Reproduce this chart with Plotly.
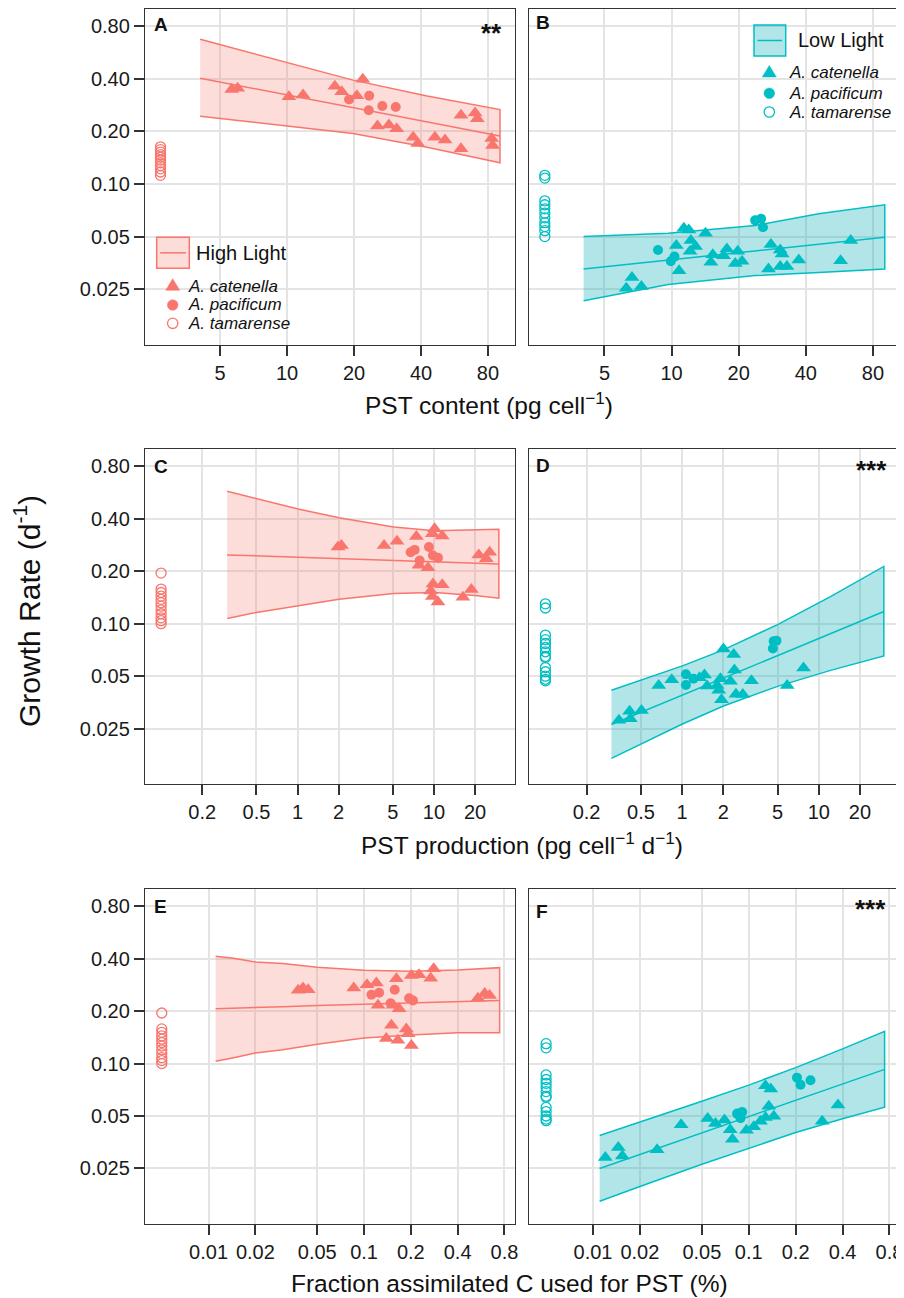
import plotly.graph_objects as go

FONT = "Liberation Sans, Arial, Helvetica, sans-serif"
RED, TEAL = "#F8766D", "#00BFC4"
RED_FILL, TEAL_FILL = "rgba(248,118,109,0.25)", "rgba(0,168,178,0.30)"

# ------------------------------------------------------------------ data
# x position at which the non-toxic A. tamarense is shown in each row
tam_x_content = 2.7
tam_x_production = 0.1
tam_x_fraction = 0.005

y_tickvals = [0.025, 0.05, 0.1, 0.2, 0.4, 0.8]
y_ticktext = ["0.025", "0.05", "0.10", "0.20", "0.40", "0.80"]
x_ticks_content = [5, 10, 20, 40, 80]
x_ticks_production = [0.2, 0.5, 1, 2, 5, 10, 20]
x_ticks_fraction = [0.01, 0.02, 0.05, 0.1, 0.2, 0.4, 0.8]
x_ticktext_fraction = ["0.01", "0.02", "0.05", "0.1", "0.2", "0.4", "0.8"]

# Panel A  (High Light, PST content)
A_cat_x = [5.64, 6.0, 10.2, 11.8, 16.4, 17.6, 20.6, 21.9, 25.5, 28.7, 31.1, 36.9, 38.7,
           46.2, 51.3, 60.5, 60.5, 70.0, 71.6, 83.1, 83.9]
A_cat_y = [0.347, 0.352, 0.315, 0.322, 0.362, 0.336, 0.319, 0.396, 0.214, 0.217, 0.207, 0.185,
           0.170, 0.185, 0.178, 0.247, 0.159, 0.254, 0.236, 0.182, 0.166]
A_pac_x = [19.0, 23.4, 23.3, 26.8, 30.8]
A_pac_y = [0.304, 0.319, 0.264, 0.279, 0.275]
A_tam_y = [0.163, 0.157, 0.152, 0.147, 0.142, 0.137, 0.132, 0.127, 0.122, 0.117, 0.112]
A_band_x = [4.07, 8.83, 19.8, 42.6, 90.6]
A_band_lo = [0.244, 0.217, 0.194, 0.162, 0.132]
A_band_fit = [0.402, 0.333, 0.273, 0.227, 0.188]
A_band_hi = [0.671, 0.514, 0.392, 0.318, 0.266]

# Panel B  (Low Light, PST content)
B_cat_x = [11.35, 11.95, 14.2, 10.5, 12.2, 12.8, 12.1, 15.3, 15.0, 17.7, 17.1, 19.8, 19.3, 20.7,
           10.8, 27.9, 30.7, 31.3, 27.2, 30.7, 32.9, 37.2, 63.6, 57.3, 6.64, 6.26, 7.32]
B_cat_y = [0.0558, 0.0546, 0.0522, 0.0444, 0.0474, 0.0438, 0.0412, 0.0394, 0.0356, 0.0425,
           0.0389, 0.0412, 0.0351, 0.0361, 0.0319, 0.0450, 0.0419, 0.0398, 0.0326, 0.0337,
           0.0337, 0.0367, 0.0474, 0.0364, 0.0292, 0.0253, 0.0259]
B_pac_x = [8.69, 10.3, 9.92, 23.7, 25.2, 25.7]
B_pac_y = [0.0419, 0.0384, 0.0361, 0.0619, 0.0632, 0.0565]
B_tam_y = [0.112, 0.108, 0.080, 0.076, 0.072, 0.068, 0.064, 0.060, 0.057, 0.054, 0.050]
B_band_x = [4.03, 9.65, 23.7, 45.7, 90.4]
B_band_lo = [0.0215, 0.0266, 0.0299, 0.0312, 0.0326]
B_band_fit = [0.0326, 0.0367, 0.0415, 0.0452, 0.0496]
B_band_hi = [0.0500, 0.0522, 0.0579, 0.0675, 0.0759]

# Panel C  (High Light, PST production)
C_cat_x = [1.98, 2.10, 4.31, 5.36, 7.43, 10.1, 9.73, 11.5, 21.3, 25.6, 24.2, 7.77, 9.04, 9.83,
           11.5, 9.46, 9.73, 10.7, 16.3, 18.8]
C_cat_y = [0.275, 0.281, 0.281, 0.297, 0.316, 0.350, 0.328, 0.318, 0.248, 0.257, 0.236, 0.216,
           0.209, 0.169, 0.167, 0.154, 0.143, 0.133, 0.142, 0.157]
C_pac_x = [6.75, 7.22, 9.19, 7.86, 9.83, 10.7]
C_pac_y = [0.257, 0.265, 0.275, 0.230, 0.246, 0.239]
CE_tam_y = [0.195, 0.158, 0.151, 0.144, 0.138, 0.132, 0.126, 0.120, 0.114, 0.108, 0.104, 0.100]
C_band_x = [0.305, 0.5, 1.01, 2.016, 5.07, 10.1, 20.0, 29.9]
C_band_lo = [0.107, 0.116, 0.127, 0.138, 0.149, 0.151, 0.145, 0.140]
C_band_fit = [0.248, 0.245, 0.241, 0.236, 0.231, 0.227, 0.223, 0.220]
C_band_hi = [0.575, 0.520, 0.455, 0.405, 0.358, 0.341, 0.344, 0.348]

# Panel D  (Low Light, PST production)
D_cat_x = [0.345, 0.413, 0.418, 0.504, 0.674, 0.839, 1.339, 1.457, 1.524, 1.804, 1.907, 1.853,
           1.940, 2.006, 2.386, 2.415, 2.257, 2.477, 2.778, 3.216, 5.87, 7.73]
D_cat_y = [0.0279, 0.0315, 0.0285, 0.0318, 0.0442, 0.0477, 0.0489, 0.0508, 0.0439, 0.0442,
           0.0483, 0.0415, 0.0366, 0.0716, 0.0665, 0.0543, 0.0467, 0.0394, 0.0393, 0.0471,
           0.0442, 0.0557]
D_pac_x = [1.066, 1.066, 1.21, 4.68, 4.90, 4.61]
D_pac_y = [0.0513, 0.0445, 0.0483, 0.0794, 0.0798, 0.0721]
DF_tam_y = [0.130, 0.123, 0.086, 0.081, 0.077, 0.073, 0.069, 0.065, 0.064, 0.056, 0.053,
            0.050, 0.048, 0.047]
D_band_x = [0.304, 1.005, 2.006, 4.99, 12.18, 29.9]
D_band_lo = [0.0169, 0.0266, 0.0337, 0.0437, 0.0540, 0.0653]
D_band_fit = [0.0264, 0.0390, 0.0489, 0.0657, 0.0878, 0.1174]
D_band_hi = [0.0415, 0.0573, 0.0708, 0.0988, 0.143, 0.213]

# Panel E  (High Light, fraction of assimilated C)
E_cat_x = [0.0377, 0.0405, 0.0437, 0.0859, 0.1045, 0.120, 0.1615, 0.2017, 0.2257, 0.2805,
           0.2684, 0.123, 0.1536, 0.168, 0.540, 0.597, 0.642, 0.150, 0.187, 0.192, 0.139,
           0.165, 0.2017]
E_cat_y = [0.263, 0.271, 0.265, 0.271, 0.283, 0.290, 0.307, 0.320, 0.323, 0.350, 0.309, 0.216,
           0.216, 0.206, 0.237, 0.252, 0.246, 0.166, 0.158, 0.148, 0.139, 0.136, 0.127]
E_pac_x = [0.1116, 0.125, 0.1575, 0.148, 0.195, 0.2065]
E_pac_y = [0.248, 0.255, 0.265, 0.222, 0.237, 0.230]
E_band_x = [0.0111, 0.0145, 0.02, 0.03, 0.05, 0.1, 0.2, 0.4, 0.745]
E_band_lo = [0.103, 0.108, 0.115, 0.120, 0.129, 0.140, 0.146, 0.150, 0.150]
E_band_fit = [0.206, 0.208, 0.210, 0.212, 0.215, 0.219, 0.222, 0.227, 0.230]
E_band_hi = [0.413, 0.402, 0.383, 0.375, 0.357, 0.343, 0.339, 0.344, 0.355]

# Panel F  (Low Light, fraction of assimilated C)
F_cat_x = [0.0120, 0.01454, 0.01543, 0.0258, 0.0368, 0.0545, 0.0611, 0.0698, 0.0760, 0.0786,
           0.0967, 0.1077, 0.1189, 0.1281, 0.1385, 0.1345, 0.1448, 0.1281, 0.296, 0.374]
F_cat_y = [0.0289, 0.0330, 0.0295, 0.0320, 0.0445, 0.0483, 0.0452, 0.0474, 0.0417, 0.0368,
           0.0414, 0.0434, 0.0467, 0.0746, 0.0714, 0.0569, 0.0499, 0.0490, 0.0467, 0.0579]
F_pac_x = [0.0842, 0.0885, 0.0907, 0.204, 0.215, 0.249]
F_pac_y = [0.0516, 0.0485, 0.0527, 0.0830, 0.0755, 0.0801]
F_band_x = [0.01103, 0.02, 0.05, 0.1, 0.2, 0.4, 0.745]
F_band_lo = [0.0162, 0.0197, 0.0264, 0.0327, 0.0402, 0.0482, 0.0561]
F_band_fit = [0.0250, 0.0301, 0.0400, 0.0495, 0.0617, 0.0765, 0.0926]
F_band_hi = [0.0386, 0.0460, 0.0607, 0.0752, 0.0947, 0.1214, 0.153]

# ------------------------------------------------------------------ layout geometry
# the page body adds an 8 px margin, so the figure is drawn 8 px smaller and shifted
OFF = 8
W, H = 904 - OFF, 1298 - OFF
ML, MR, MT, MB = 145 - OFF, 4, 9 - OFF, 74
PW, PH = W - ML - MR, H - MT - MB


def px2x(px):          # page pixel -> paper x
    return (px - OFF - ML) / PW


def py2y(py):          # page pixel -> paper y
    return (H - MB - (py - OFF)) / PH


col_dom = {1: [0.0, px2x(515)], 2: [px2x(529.3), 1.0]}
row_dom = {1: [py2y(345), 1.0], 2: [py2y(784.3), py2y(449.3)], 3: [0.0, py2y(889.3)]}
row_xrange = {1: [0.3617, 2.0245], 2: [-1.118, 1.594], 3: [-2.409, -0.029]}
row_xticks = {1: (x_ticks_content, [str(v) for v in x_ticks_content]),
              2: (x_ticks_production, [str(v) for v in x_ticks_production]),
              3: (x_ticks_fraction, x_ticktext_fraction)}

panels = [
    dict(letter="A", color=RED, fill=RED_FILL, cat=(A_cat_x, A_cat_y), pac=(A_pac_x, A_pac_y),
         tam=(tam_x_content, A_tam_y), band=(A_band_x, A_band_lo, A_band_fit, A_band_hi)),
    dict(letter="B", color=TEAL, fill=TEAL_FILL, cat=(B_cat_x, B_cat_y), pac=(B_pac_x, B_pac_y),
         tam=(tam_x_content, B_tam_y), band=(B_band_x, B_band_lo, B_band_fit, B_band_hi)),
    dict(letter="C", color=RED, fill=RED_FILL, cat=(C_cat_x, C_cat_y), pac=(C_pac_x, C_pac_y),
         tam=(tam_x_production, CE_tam_y), band=(C_band_x, C_band_lo, C_band_fit, C_band_hi)),
    dict(letter="D", color=TEAL, fill=TEAL_FILL, cat=(D_cat_x, D_cat_y), pac=(D_pac_x, D_pac_y),
         tam=(tam_x_production, DF_tam_y), band=(D_band_x, D_band_lo, D_band_fit, D_band_hi)),
    dict(letter="E", color=RED, fill=RED_FILL, cat=(E_cat_x, E_cat_y), pac=(E_pac_x, E_pac_y),
         tam=(tam_x_fraction, CE_tam_y), band=(E_band_x, E_band_lo, E_band_fit, E_band_hi)),
    dict(letter="F", color=TEAL, fill=TEAL_FILL, cat=(F_cat_x, F_cat_y), pac=(F_pac_x, F_pac_y),
         tam=(tam_x_fraction, DF_tam_y), band=(F_band_x, F_band_lo, F_band_fit, F_band_hi)),
]

fig = go.Figure()
layout = dict(width=W, height=H, margin=dict(l=ML, r=MR, t=MT, b=MB, autoexpand=False),
              paper_bgcolor="white", plot_bgcolor="white", showlegend=False,
              font=dict(family=FONT, color="#1a1a1a"))

axis_common = dict(type="log", showgrid=True, gridcolor="#E4E4E4", gridwidth=1.6,
                   showline=True, linecolor="#333333", linewidth=1.3, mirror=True,
                   zeroline=False, tickmode="array",
                   tickfont=dict(family=FONT, size=20, color="#1a1a1a"))

for i, p in enumerate(panels):
    n = i + 1
    row, col = i // 2 + 1, i % 2 + 1
    xa, ya = ("x", "y") if n == 1 else (f"x{n}", f"y{n}")
    xk, yk = ("xaxis", "yaxis") if n == 1 else (f"xaxis{n}", f"yaxis{n}")
    tv, tt = row_xticks[row]
    layout[xk] = dict(axis_common, domain=col_dom[col], range=row_xrange[row], anchor=ya,
                      tickvals=tv, ticktext=tt, ticks="outside", ticklen=10, tickwidth=1.5,
                      tickcolor="#333333")
    ydict = dict(axis_common, domain=row_dom[row], range=[-1.921, 0.0], anchor=xa,
                 tickvals=y_tickvals, ticktext=y_ticktext)
    if col == 1:
        ydict.update(ticks="outside", ticklen=10, tickwidth=1.5, tickcolor="#333333")
    else:
        ydict.update(ticks="", showticklabels=False)
    layout[yk] = ydict

    bx, lo, fit, hi = p["band"]
    fig.add_trace(go.Scatter(x=bx + bx[::-1], y=hi + lo[::-1], mode="lines", fill="toself",
                             fillcolor=p["fill"], line=dict(color=p["color"], width=1.5),
                             xaxis=xa, yaxis=ya, hoverinfo="skip"))
    fig.add_trace(go.Scatter(x=bx, y=fit, mode="lines", line=dict(color=p["color"], width=1.5),
                             xaxis=xa, yaxis=ya, hoverinfo="skip"))
    tx, ty = p["tam"]
    fig.add_trace(go.Scatter(x=[tx] * len(ty), y=ty, mode="markers", name="A. tamarense",
                             marker=dict(symbol="circle-open", size=10, color=p["color"],
                                         line=dict(width=1.3, color=p["color"])),
                             xaxis=xa, yaxis=ya))
    fig.add_trace(go.Scatter(x=p["cat"][0], y=p["cat"][1], mode="markers", name="A. catenella",
                             marker=dict(symbol="triangle-up", size=13, color=p["color"]),
                             xaxis=xa, yaxis=ya))
    fig.add_trace(go.Scatter(x=p["pac"][0], y=p["pac"][1], mode="markers", name="A. pacificum",
                             marker=dict(symbol="circle", size=10, color=p["color"]),
                             xaxis=xa, yaxis=ya))

fig.update_layout(**layout)

ann = []
shapes = []


def text(px, py, s, size, xanchor="left", yanchor="middle", angle=0):
    ann.append(dict(x=px2x(px), y=py2y(py), xref="paper", yref="paper", text=s,
                    showarrow=False, xanchor=xanchor, yanchor=yanchor, textangle=angle,
                    font=dict(family=FONT, size=size, color="#111111")))


# axis titles
text(489, 403, "PST content (pg cell<sup>−1</sup>)", 24.5, xanchor="center")
text(522, 843, "PST production (pg cell<sup>−1</sup> d<sup>−1</sup>)", 24.5, xanchor="center")
text(509, 1283, "Fraction assimilated C used for PST (%)", 24.5, xanchor="center")
text(27, 611, "Growth Rate (d<sup>-1</sup>)", 30, xanchor="center", angle=-90)

# panel letters
for L, px, py in [("A", 151.5, 24), ("B", 534, 22.5), ("C", 151.5, 466.5),
                  ("D", 534, 466), ("E", 151.5, 906.5), ("F", 534, 911.5)]:
    text(px, py, f"<b>{L}</b>", 19)

# significance stars
for s, px, py in [("**", 504, 33), ("***", 889, 470), ("***", 888, 909)]:
    text(px, py, f"<b>{s}</b>", 26, xanchor="right")


def legend_block(color, fill, box, line_y, title, title_x, mx, my_list, lab_x):
    x0, y0, x1, y1 = box
    shapes.append(dict(type="rect", xref="paper", yref="paper", x0=px2x(x0), x1=px2x(x1),
                       y0=py2y(y1), y1=py2y(y0), fillcolor=fill,
                       line=dict(color=color, width=1.5)))
    shapes.append(dict(type="line", xref="paper", yref="paper", x0=px2x(x0 + 3.5),
                       x1=px2x(x1 - 3.5), y0=py2y(line_y), y1=py2y(line_y),
                       line=dict(color=color, width=1.5)))
    text(title_x, line_y, title, 20)
    common = dict(xref="paper", yref="paper", xsizemode="pixel", ysizemode="pixel")
    shapes.append(dict(common, type="path", xanchor=px2x(mx), yanchor=py2y(my_list[0]),
                       path="M-7,-4.3 L7,-4.3 L0,7.3 Z", fillcolor=color,
                       line=dict(color=color, width=0.5)))
    shapes.append(dict(common, type="circle", xanchor=px2x(mx), yanchor=py2y(my_list[1]),
                       x0=-5.3, x1=5.3, y0=-5.3, y1=5.3, fillcolor=color,
                       line=dict(color=color, width=0.5)))
    shapes.append(dict(common, type="circle", xanchor=px2x(mx), yanchor=py2y(my_list[2]),
                       x0=-5.2, x1=5.2, y0=-5.2, y1=5.2, fillcolor="rgba(0,0,0,0)",
                       line=dict(color=color, width=1.3)))
    for lab, my in zip(["A. catenella", "A. pacificum", "A. tamarense"], my_list):
        text(lab_x, my, f"<i>{lab}</i>", 17)


legend_block(RED, RED_FILL, (156.7, 237.3, 189.3, 268.3), 252.8, "High Light", 194.3,
             172.7, [286, 305, 323.3], 186)
legend_block(TEAL, TEAL_FILL, (754, 25, 785.7, 56), 40.5, "Low Light", 795.7,
             769.3, [72.7, 93.3, 112], 787.3)

fig.update_layout(annotations=ann, shapes=shapes)
fig.write_html("out.html")
